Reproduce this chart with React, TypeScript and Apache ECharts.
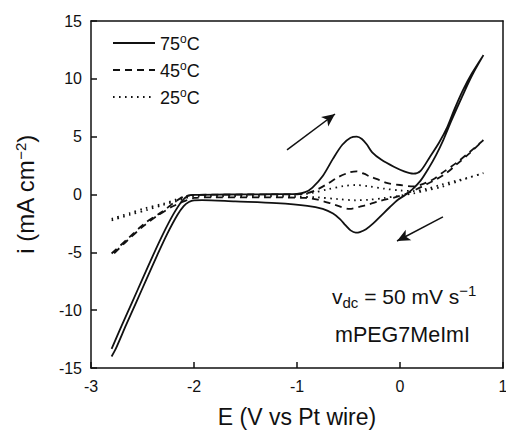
import React, { useEffect, useRef } from "react";
import * as echarts from "echarts";

// Cyclic voltammograms of mPEG7MeImI at three temperatures: [E (V), i (mA cm^-2)]
const curve75: number[][] = [
  // anodic sweep
  [-2.8, -13.35], [-2.7, -11.3], [-2.6, -9.3], [-2.5, -7.3], [-2.4, -5.3], [-2.3, -3.4],
  [-2.2, -1.7], [-2.12, -0.6], [-2.06, -0.12], [-2.0, -0.03], [-1.7, 0.0], [-1.3, 0.02],
  [-1.0, 0.06], [-0.92, 0.2], [-0.85, 0.6], [-0.75, 1.6], [-0.65, 3.1], [-0.56, 4.3],
  [-0.48, 4.9], [-0.42, 5.0], [-0.37, 4.8], [-0.32, 4.3], [-0.27, 3.65], [-0.18, 3.0],
  [-0.06, 2.4], [0.04, 2.0], [0.13, 1.8], [0.2, 2.05], [0.29, 3.25], [0.38, 4.5],
  [0.46, 5.85], [0.53, 7.4], [0.61, 9.0], [0.7, 10.5], [0.81, 12.05],
  // cathodic sweep
  [0.7, 10.3], [0.6, 8.4], [0.5, 6.4], [0.42, 4.7], [0.35, 3.4], [0.28, 2.3], [0.2, 1.2],
  [0.12, 0.45], [0.05, -0.05], [-0.02, -0.45], [-0.1, -1.1], [-0.18, -1.8], [-0.26, -2.5],
  [-0.33, -3.0], [-0.39, -3.25], [-0.43, -3.3], [-0.48, -3.1], [-0.53, -2.65], [-0.58, -2.15],
  [-0.65, -1.65], [-0.75, -1.25], [-0.9, -0.98], [-1.2, -0.75], [-1.6, -0.6], [-1.92, -0.48],
  [-2.0, -0.5], [-2.05, -0.65], [-2.1, -1.0], [-2.16, -1.75], [-2.26, -3.4], [-2.36, -5.3],
  [-2.46, -7.3], [-2.56, -9.3], [-2.66, -11.3], [-2.76, -13.35], [-2.8, -14.0],
];

const curve45: number[][] = [
  [-2.8, -5.1], [-2.64, -3.8], [-2.48, -2.5], [-2.31, -1.5], [-2.18, -0.6], [-2.1, -0.2],
  [-2.03, -0.05], [-1.5, 0.0], [-1.0, 0.02], [-0.9, 0.12], [-0.8, 0.45], [-0.7, 0.95],
  [-0.6, 1.5], [-0.5, 1.88], [-0.42, 2.0], [-0.35, 1.8], [-0.29, 1.55], [-0.2, 1.25],
  [-0.13, 1.0], [0.0, 0.82], [0.13, 0.7], [0.22, 0.9], [0.32, 1.3], [0.43, 2.0],
  [0.55, 2.75], [0.68, 3.7], [0.81, 4.7],
  [0.68, 3.6], [0.55, 2.6], [0.45, 1.85], [0.36, 1.35], [0.26, 0.9], [0.16, 0.45],
  [0.07, 0.1], [-0.05, -0.25], [-0.19, -0.55], [-0.3, -0.85], [-0.39, -1.05], [-0.49, -1.25],
  [-0.58, -1.05], [-0.68, -0.75], [-0.8, -0.45], [-0.92, -0.3], [-1.3, -0.25], [-1.8, -0.25],
  [-2.0, -0.3], [-2.1, -0.6], [-2.2, -1.0], [-2.35, -1.8], [-2.5, -2.8], [-2.65, -4.0],
  [-2.8, -5.3],
];

const curve25: number[][] = [
  [-2.8, -2.1], [-2.62, -1.6], [-2.48, -1.2], [-2.3, -0.8], [-2.18, -0.45], [-2.1, -0.2],
  [-2.03, -0.1], [-1.5, -0.05], [-1.0, -0.02], [-0.85, 0.15], [-0.7, 0.45], [-0.55, 0.72],
  [-0.43, 0.82], [-0.3, 0.7], [-0.15, 0.5], [0.0, 0.35], [0.13, 0.3], [0.26, 0.5],
  [0.4, 0.85], [0.55, 1.2], [0.68, 1.5], [0.81, 1.85],
  [0.6, 1.25], [0.4, 0.65], [0.26, 0.35], [0.13, 0.1], [0.0, -0.1], [-0.15, -0.3],
  [-0.3, -0.45], [-0.43, -0.5], [-0.6, -0.4], [-0.8, -0.25], [-1.0, -0.2], [-1.5, -0.15],
  [-2.0, -0.15], [-2.14, -0.5], [-2.3, -0.9], [-2.46, -1.35], [-2.62, -1.75], [-2.8, -2.25],
];

const temperatures = ["75", "45", "25"];
const xTicks = [-3, -2, -1, 0, 1];
const yTicks = [-15, -10, -5, 0, 5, 10, 15];

// Scan-direction arrows, in data coordinates: [start, end]
const arrowForward = [[-1.097, 3.85], [-0.631, 6.96]];
const arrowReverse = [[0.417, -1.94], [-0.029, -4.02]];

const FONT = "'Liberation Sans', Arial, Helvetica, sans-serif";
const INK = "#111";
const DASHES: any[] = ["solid", [7, 5], [1.6, 4.4]];

export default function App() {
  const ref = useRef<HTMLDivElement>(null);

  useEffect(() => {
    if (!ref.current) return;
    const chart = echarts.init(ref.current, null, { renderer: "svg" });

    const lineSeries = (name: string, data: number[][], type: any) => ({
      name,
      type: "line",
      data,
      smooth: 0.3,
      showSymbol: false,
      symbol: "none",
      lineStyle: { color: INK, width: 1.8, type },
      itemStyle: { color: INK },
      z: 3,
    });

    const arrowMark = {
      silent: true,
      symbol: ["none", "arrow"],
      symbolSize: [9, 13],
      label: { show: false },
      lineStyle: { color: INK, width: 1.5, type: "solid" },
      data: [
        [{ coord: arrowForward[0] }, { coord: arrowForward[1] }],
        [{ coord: arrowReverse[0] }, { coord: arrowReverse[1] }],
      ],
    };

    const s75: any = lineSeries(`${temperatures[0]}oC`, curve75, DASHES[0]);
    s75.markLine = arrowMark;

    // legend drawn as sample lines plus labels
    const legendItems: any[] = [];
    temperatures.forEach((t, k) => {
      const y = 43 + k * 27;
      legendItems.push({
        type: "line",
        shape: { x1: 113, y1: y, x2: 155, y2: y },
        style: {
          stroke: INK,
          lineWidth: 1.8,
          lineDash: DASHES[k] === "solid" ? null : DASHES[k],
        },
      });
      legendItems.push({
        type: "text",
        x: 160,
        y,
        style: {
          text: `{n|${t}}{s|o}{n|C}`,
          verticalAlign: "middle",
          fill: INK,
          font: `18px ${FONT}`,
          rich: {
            n: { fontSize: 18, fontFamily: FONT, fill: INK, lineHeight: 20, verticalAlign: "bottom" },
            s: { fontSize: 12, fontFamily: FONT, fill: INK, lineHeight: 20, verticalAlign: "top" },
          },
        } as any,
      });
    });

    const frameAxis = { show: true, onZero: false, lineStyle: { color: INK, width: 1.5 } };

    chart.setOption({
      animation: false,
      backgroundColor: "#fff",
      textStyle: { fontFamily: FONT },
      grid: {
        left: 91,
        right: 3,
        top: 21,
        bottom: 69,
        outerBoundsMode: "none",
        containLabel: false,
      },
      xAxis: [
        {
          type: "value",
          min: -3,
          max: 1,
          interval: 1,
          name: "E (V vs Pt wire)",
          nameLocation: "middle",
          nameGap: 37,
          nameTextStyle: { fontSize: 23, color: INK, fontFamily: FONT },
          axisLine: frameAxis,
          axisTick: { show: true, inside: true, length: 6, lineStyle: { color: INK, width: 1.5 } },
          axisLabel: {
            fontSize: 16,
            color: INK,
            margin: 10,
            formatter: (v: number) => (xTicks.includes(v) ? String(v) : ""),
          },
          splitLine: { show: false },
        },
        {
          type: "value",
          position: "top",
          min: -3,
          max: 1,
          interval: 1,
          axisLine: frameAxis,
          axisTick: { show: false },
          axisLabel: { show: false },
          splitLine: { show: false },
        },
      ],
      yAxis: [
        {
          type: "value",
          min: -15,
          max: 15,
          interval: 5,
          name: "i (mA cm{sup|−2})",
          nameLocation: "middle",
          nameGap: 54,
          nameRotate: 90,
          nameTextStyle: {
            fontSize: 24,
            color: INK,
            fontFamily: FONT,
            rich: {
              sup: { fontSize: 15, fontFamily: FONT, color: INK, verticalAlign: "top", lineHeight: 24 },
            },
          },
          axisLine: frameAxis,
          axisTick: { show: true, inside: true, length: 6, lineStyle: { color: INK, width: 1.5 } },
          axisLabel: {
            fontSize: 16,
            color: INK,
            margin: 9,
            formatter: (v: number) => (yTicks.includes(v) ? String(v) : ""),
          },
          splitLine: { show: false },
        },
        {
          type: "value",
          position: "right",
          min: -15,
          max: 15,
          interval: 5,
          axisLine: frameAxis,
          axisTick: { show: false },
          axisLabel: { show: false },
          splitLine: { show: false },
        },
      ],
      graphic: [
        ...legendItems,
        {
          type: "text",
          left: 332,
          top: 283,
          style: {
            text: "v{sub|dc} = 50 mV s{sup|−1}",
            fill: INK,
            font: `21px ${FONT}`,
            rich: {
              sub: { fontSize: 15, fontFamily: FONT, fill: INK, verticalAlign: "bottom", lineHeight: 27 },
              sup: { fontSize: 15, fontFamily: FONT, fill: INK, verticalAlign: "top", lineHeight: 27 },
            },
          } as any,
        },
        {
          type: "text",
          left: 335,
          top: 324,
          style: { text: "mPEG7MeImI", fill: INK, font: `21.5px ${FONT}` },
        },
      ],
      series: [
        s75,
        lineSeries(`${temperatures[1]}oC`, curve45, DASHES[1]),
        lineSeries(`${temperatures[2]}oC`, curve25, DASHES[2]),
      ],
    });

    return () => chart.dispose();
  }, []);

  return (
    <div style={{ position: "fixed", left: 0, top: 0, width: 506, height: 437, background: "#fff" }}>
      <div ref={ref} style={{ width: 506, height: 437 }} />
    </div>
  );
}
